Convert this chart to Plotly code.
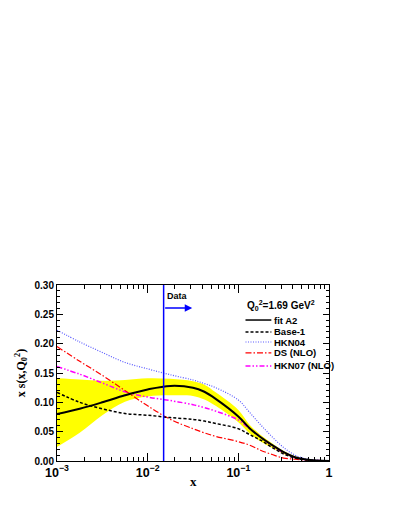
import math
import plotly.graph_objects as go

# x grid (log spaced) and values
x_grid = [0.001, 0.00178, 0.00316, 0.00562, 0.01, 0.0178, 0.0316, 0.0422, 0.0562, 0.1,
          0.133, 0.178, 0.237, 0.316, 0.422, 0.562, 0.75, 1.0]

fit_a2 = [0.080, 0.089, 0.100, 0.112, 0.122, 0.128, 0.125, 0.118, 0.106, 0.076,
          0.056, 0.040, 0.027, 0.015, 0.0065, 0.0025, 0.0008, 0.0]
band_hi = [0.141, 0.139, 0.137, 0.138, 0.141, 0.140, 0.136, 0.130, 0.117, 0.087,
           0.062, 0.044, 0.030, 0.017, 0.008, 0.003, 0.001, 0.0]
band_lo = [0.024, 0.048, 0.078, 0.101, 0.110, 0.112, 0.111, 0.105, 0.094, 0.066,
           0.047, 0.033, 0.022, 0.012, 0.005, 0.002, 0.0006, 0.0]
base1 = [0.117, 0.100, 0.089, 0.081, 0.078, 0.074, 0.071, 0.068, 0.064, 0.055,
         0.045, 0.035, 0.023, 0.012, 0.005, 0.0018, 0.0005, 0.0]
hkn04 = [0.223, 0.203, 0.185, 0.168, 0.157, 0.147, 0.138, 0.132, 0.125, 0.104,
         0.083, 0.061, 0.041, 0.023, 0.010, 0.0035, 0.001, 0.0]
ds_nlo = [0.195, 0.170, 0.146, 0.120, 0.094, 0.071, 0.055, 0.048, 0.042, 0.033,
          0.027, 0.018, 0.011, 0.005, 0.003, 0.0015, 0.0005, 0.0]
hkn07 = [0.161, 0.148, 0.133, 0.118, 0.109, 0.103, 0.096, 0.091, 0.085, 0.070,
         0.055, 0.040, 0.026, 0.014, 0.006, 0.0022, 0.0007, 0.0]

data_xmin = 0.015
y_max = 0.30

SANS = "Liberation Sans"
SERIF = "Liberation Serif"

# name, values, color, width, dash
curves = [
    ("fit A2", fit_a2, "#000000", 2, "solid"),
    ("Base-1", base1, "#000000", 1.5, "3px,2px"),
    ("HKN04", hkn04, "#5a5aff", 1.2, "1px,1.5px"),
    ("DS (NLO)", ds_nlo, "#ff0000", 1.2, "6px,2px,1.5px,2px"),
    ("HKN07 (NLO)", hkn07, "#ff00ff", 1.5, "5px,2px,1.5px,2px,1.5px,2px"),
]

fig = go.Figure()

# uncertainty band of fit A2
fig.add_trace(go.Scatter(x=x_grid, y=band_hi, mode="lines",
                         line=dict(width=0, shape="spline"), showlegend=False))
fig.add_trace(go.Scatter(x=x_grid, y=band_lo, mode="lines",
                         line=dict(width=0, shape="spline"), fill="tonexty",
                         fillcolor="#ffff00", showlegend=False))

for name, vals, color, width, dash in curves[::-1]:
    fig.add_trace(go.Scatter(x=x_grid, y=vals, mode="lines", name=name,
                             line=dict(color=color, width=width, dash=dash, shape="spline"),
                             showlegend=False))

# data region marker
fig.add_trace(go.Scatter(x=[data_xmin, data_xmin], y=[0, y_max], mode="lines",
                         line=dict(color="#0000ff", width=1.5), showlegend=False))

fig.add_annotation(x=math.log10(0.031), y=0.261, ax=math.log10(data_xmin), ay=0.261,
                   xref="x", yref="y", axref="x", ayref="y", text="",
                   showarrow=True, arrowhead=2, arrowsize=1, arrowwidth=1.5,
                   arrowcolor="#0000ff")
fig.add_annotation(x=math.log10(data_xmin), y=0.281, xref="x", yref="y",
                   text="Data", showarrow=False, xanchor="left", xshift=1,
                   font=dict(family=SANS, size=9, color="black", weight="bold"))

# hand-drawn legend (ROOT style)
fig.add_annotation(x=0.693, y=0.886, xref="paper", yref="paper", showarrow=False,
                   xanchor="left", yanchor="middle",
                   text="Q<sub>0</sub><sup>2</sup>=1.69 GeV<sup>2</sup>",
                   font=dict(family=SANS, size=10, color="black", weight="bold"))
row_y = [0.801, 0.733, 0.676, 0.614, 0.540]
for (name, vals, color, width, dash), yy in zip(curves, row_y):
    fig.add_shape(type="line", xref="paper", yref="paper", x0=0.693, x1=0.788,
                  y0=yy, y1=yy, line=dict(color=color, width=min(width, 1.5), dash=dash))
    fig.add_annotation(x=0.789, y=yy, xref="paper", yref="paper", text=name,
                       showarrow=False, xanchor="left", yanchor="middle",
                       font=dict(family=SANS, size=9.5, color="black", weight="bold"))

# x axis title placed like ROOT does
fig.add_annotation(x=0.5, y=-0.119, xref="paper", yref="paper", text="x",
                   showarrow=False, yanchor="middle",
                   font=dict(family=SERIF, size=13, color="black", weight="bold"))

fig.update_xaxes(type="log", range=[-3, 0], dtick=1, exponentformat="power",
                 showline=True, linecolor="black", linewidth=1, mirror="ticks",
                 ticks="inside", ticklen=8, tickcolor="black", showgrid=False,
                 zeroline=False,
                 minor=dict(dtick="D1", ticks="inside", ticklen=4, tickcolor="black",
                            showgrid=False),
                 tickfont=dict(family=SANS, size=10, color="black", weight="bold"))
fig.update_yaxes(range=[0, y_max], dtick=0.05, tickformat=".2f",
                 showline=True, linecolor="black", linewidth=1, mirror="ticks",
                 ticks="inside", ticklen=6, tickcolor="black", showgrid=False,
                 zeroline=False,
                 minor=dict(dtick=0.01, ticks="inside", ticklen=3, tickcolor="black",
                            showgrid=False),
                 tickfont=dict(family=SANS, size=10, color="black", weight="bold"),
                 title=dict(text="x s(x,Q<sub>0</sub><sup>2</sup>)", standoff=6,
                            font=dict(family=SERIF, size=12, color="black", weight="bold")))

# page body adds ~8px offset, so the figure is a bit smaller than the window
fig.update_layout(width=387, height=503, margin=dict(l=47, r=66, t=277, b=50),
                  plot_bgcolor="white", paper_bgcolor="white", showlegend=False)

fig.write_html("out.html")
